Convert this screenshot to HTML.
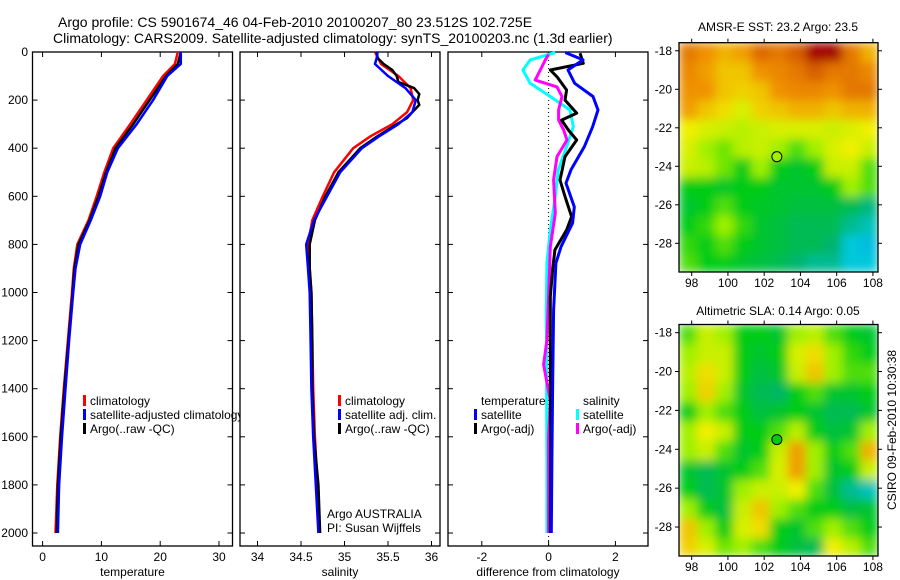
<!DOCTYPE html>
<html><head><meta charset="utf-8">
<style>
html,body{margin:0;padding:0;background:#fff;}
svg{display:block;font-family:"Liberation Sans",sans-serif;}
</style></head>
<body>
<svg id="fig" width="900" height="580" viewBox="0 0 900 580" xmlns="http://www.w3.org/2000/svg">
<defs>
<filter id="smooth" x="0" y="0" width="1" height="1"><feGaussianBlur stdDeviation="5" edgeMode="duplicate"/></filter>
<clipPath id="clipSst"><rect x="679" y="42.7" width="199" height="229.3"/></clipPath>
<clipPath id="clipSla"><rect x="679" y="324.5" width="199" height="231.5"/></clipPath>
</defs>
<text x="58" y="27" font-size="14">Argo profile: CS 5901674_46 04-Feb-2010 20100207_80 23.512S 102.725E</text>
<text x="53" y="43" font-size="14">Climatology: CARS2009. Satellite-adjusted climatology: synTS_20100203.nc (1.3d earlier)</text>
<text x="778" y="31" font-size="12" text-anchor="middle">AMSR-E SST: 23.2 Argo: 23.5</text>
<text x="778" y="315" font-size="12" text-anchor="middle">Altimetric SLA: 0.14 Argo: 0.05</text>
<text transform="translate(896,430) rotate(-90)" font-size="12" text-anchor="middle">CSIRO 09-Feb-2010 10:30:38</text>
<g id="plots"></g>
</svg>
<script>
// ---- depth profiles ----
const depthsT = [0,50,100,200,300,400,500,600,700,800,900,1000,1200,1400,1600,1800,2000];
const tempClim = [23,22.5,20.5,17.7,14.9,12,10.5,9.2,7.8,5.9,5.3,5,4.3,3.6,3.0,2.5,2.2];
const tempSat  = [23.5,23.5,21.2,18.8,16,12.8,11,9.8,8.2,6.4,5.6,5.2,4.5,3.9,3.3,2.8,2.6];
const tempArgo = [23.5,23,21,18.2,15.4,12.4,10.8,9.5,8,6.1,5.4,5.1,4.4,3.7,3.1,2.6,2.4];

const depthsSClim = [0,50,100,150,200,250,300,350,400,500,600,700,800,900,1000,1200,1400,1600,1800,2000];
const salClim = [35.35,35.42,35.62,35.76,35.79,35.72,35.55,35.3,35.1,34.88,34.75,34.63,34.58,34.6,34.62,34.63,34.64,34.66,34.69,34.71];
const depthsSSat = [0,25,50,100,150,200,250,300,350,400,500,600,700,800,900,1000,1200,1400,1600,1800,2000];
const salSat = [35.38,35.37,35.35,35.5,35.7,35.82,35.78,35.62,35.4,35.2,34.95,34.8,34.65,34.56,34.58,34.6,34.61,34.62,34.64,34.67,34.7];
const depthsSArgo = [0,25,50,75,100,125,150,175,200,220,250,275,300,350,400,500,600,700,800,900,1000,1200,1400,1600,1800,2000];
const salArgo = [35.37,35.38,35.45,35.55,35.6,35.62,35.8,35.86,35.84,35.86,35.78,35.72,35.6,35.38,35.18,34.93,34.78,34.66,34.6,34.6,34.62,34.63,34.63,34.65,34.7,34.72];

const depthsDTS = [2,33,75,130,185,241,310,394,490,545,644,711,810,878,1073,1400,1700,2000];
const diffTSat = [0.5,1.03,0.58,0.78,1.33,1.48,1.32,1.07,0.67,0.52,0.77,0.72,0.37,0.22,0.15,0.12,0.1,0.08];
const depthsDTA = [5,47,75,103,158,200,254,283,324,366,435,532,601,685,740,823,906,1017,1300,1600,2000];
const diffTArgo = [0.94,1.04,0.05,0.25,0.54,0.49,0.84,0.39,0.59,0.84,0.49,0.34,0.49,0.69,0.54,0.19,0.12,0.05,0.05,0.06,0.05];
const depthsDSS = [2,33,75,130,185,241,310,394,490,601,740,878,1073,1400,1700,2000];
const diffSSat = [0.2,-0.55,-0.77,-0.55,0.05,0.64,0.74,0.54,0.29,0.2,0.05,-0.05,-0.07,-0.06,-0.05,-0.05];
const depthsDSA = [10,33,75,117,145,185,241,283,324,366,435,532,671,810,1017,1200,1300,1450,1600,2000];
const diffSArgo = [0,-0.1,-0.25,-0.4,0.25,0.4,0.3,0.3,0.45,0.55,0.25,0.15,0.2,0.05,0,-0.05,-0.15,0.05,0.0,0.0];

const depthTicks = [0,200,400,600,800,1000,1200,1400,1600,1800,2000];
const tempTicks = [0,10,20,30];
const salTicks = [34,34.5,35,35.5,36];
const diffTicks = [-2,0,2];
const latTicks = [-18,-20,-22,-24,-26,-28];
const lonTicks = [98,100,102,104,106,108];

// ---- map grids (normalized colour index, rows north->south, 1 degree cells) ----
const sstGrid = [
[0.85,0.8,0.75,0.78,0.88,0.85,0.9,1,1,0.85,0.75],
[0.82,0.78,0.72,0.72,0.8,0.82,0.85,0.9,0.85,0.85,0.82],
[0.8,0.8,0.72,0.7,0.72,0.8,0.82,0.82,0.8,0.85,0.85],
[0.78,0.72,0.68,0.62,0.7,0.72,0.75,0.75,0.72,0.75,0.75],
[0.65,0.62,0.6,0.58,0.6,0.62,0.62,0.62,0.6,0.62,0.65],
[0.62,0.55,0.52,0.58,0.6,0.55,0.5,0.55,0.62,0.65,0.6],
[0.6,0.58,0.52,0.45,0.55,0.45,0.42,0.45,0.6,0.6,0.5],
[0.45,0.45,0.43,0.45,0.45,0.42,0.42,0.42,0.45,0.55,0.5],
[0.42,0.45,0.5,0.45,0.43,0.42,0.4,0.4,0.4,0.38,0.33],
[0.45,0.48,0.55,0.48,0.42,0.4,0.38,0.38,0.38,0.3,0.25],
[0.48,0.45,0.5,0.45,0.42,0.4,0.38,0.38,0.35,0.2,0.18],
[0.5,0.45,0.45,0.42,0.4,0.38,0.35,0.3,0.3,0.2,0.2]];
const slaGrid = [
[0.5,0.6,0.55,0.45,0.45,0.42,0.55,0.58,0.5,0.45,0.42],
[0.55,0.6,0.6,0.45,0.42,0.45,0.62,0.68,0.55,0.48,0.45],
[0.58,0.68,0.6,0.45,0.4,0.42,0.6,0.72,0.55,0.5,0.5],
[0.55,0.7,0.55,0.42,0.38,0.36,0.45,0.5,0.42,0.42,0.45],
[0.45,0.55,0.5,0.45,0.4,0.42,0.45,0.42,0.38,0.38,0.42],
[0.55,0.65,0.6,0.45,0.45,0.5,0.58,0.45,0.4,0.42,0.55],
[0.55,0.6,0.5,0.42,0.45,0.6,0.78,0.55,0.45,0.5,0.75],
[0.42,0.38,0.42,0.45,0.5,0.62,0.78,0.55,0.42,0.45,0.6],
[0.45,0.38,0.42,0.55,0.6,0.6,0.65,0.5,0.4,0.3,0.25],
[0.55,0.45,0.4,0.6,0.72,0.55,0.5,0.45,0.45,0.4,0.42],
[0.72,0.55,0.45,0.62,0.68,0.45,0.42,0.5,0.55,0.5,0.45],
[0.7,0.62,0.52,0.55,0.5,0.45,0.4,0.38,0.65,0.58,0.5]];
const floatPos = [102.7,-23.5];

const NS='http://www.w3.org/2000/svg';
const root=document.getElementById('plots');
function mk(tag,attrs,parent){const e=document.createElementNS(NS,tag);for(const k in attrs)e.setAttribute(k,attrs[k]);(parent||root).appendChild(e);return e;}
function txt(s,x,y,anchor,size,parent){const t=mk('text',{x:x,y:y,'text-anchor':anchor||'start','font-size':size||12},parent);t.textContent=s;return t;}

const TOP=52, BOT=546;
const yD = d => TOP + d*(533-TOP)/2000;

function panel(name,x0,x1,xs,xticks,xfmt,label,showY){
  const g=mk('g',{});
  
  
  const r=mk('rect',{x:x0,y:TOP,width:x1-x0,height:BOT-TOP,fill:'#fff',stroke:'#000','stroke-width':1.3},g);
  
  
  depthTicks.forEach(d=>{
    const y=yD(d);
    mk('line',{x1:x0,x2:x0+5,y1:y,y2:y,stroke:'#000'},g);
    mk('line',{x1:x1-5,x2:x1,y1:y,y2:y,stroke:'#000'},g);
    if(showY){const t=txt(String(d),28,y+4,'end',12,g);
      
      }
  });
  xticks.forEach(v=>{
    const x=xs(v);
    mk('line',{x1:x,x2:x,y1:BOT,y2:BOT-5,stroke:'#000'},g);
    mk('line',{x1:x,x2:x,y1:TOP,y2:TOP+5,stroke:'#000'},g);
    const t=txt(xfmt(v),x,561,'middle',12,g);
    
    
  });
  const l=txt(label,(x0+x1)/2,576,'middle',12,g);
  
  
  return g;
}
function line(g,xs,depths,vals,color,w,name){
  const pts=depths.map((d,i)=>xs(vals[i]).toFixed(1)+','+yD(d).toFixed(1)).join(' ');
  const p=mk('polyline',{points:pts,fill:'none',stroke:color,'stroke-width':w,'stroke-linejoin':'round'},g);
  
  
}
function legend(g,items,x,y){
  items.forEach((it,i)=>{
    const yy=y+i*14;
    if(it[1]) mk('rect',{x:x,y:yy-10,width:3,height:11,fill:it[1]},g);
    const t=txt(it[0],x+7,yy,'start',12,g);
    
    
  });
}

// Temperature panel
const xT=v=>42.6+v*5.88;
const gT=panel('temperature-panel',32.5,232.5,xT,tempTicks,v=>String(v),'temperature',true);
line(gT,xT,depthsT,tempClim,'#f00',2.5,'temp-climatology-line');
line(gT,xT,depthsT,tempArgo,'#000',2.5,'temp-argo-line');
line(gT,xT,depthsT,tempSat,'#00f',2.5,'temp-satellite-line');
legend(gT,[['climatology','#f00'],['satellite-adjusted climatology','#00f'],['Argo(..raw -QC)','#000']],83,405);

// Salinity panel
const xS=v=>257.5+(v-34)*87;
const gS=panel('salinity-panel',240,440,xS,salTicks,v=>String(v),'salinity',false);
line(gS,xS,depthsSClim,salClim,'#f00',2.5,'sal-climatology-line');
line(gS,xS,depthsSArgo,salArgo,'#000',2.5,'sal-argo-line');
line(gS,xS,depthsSSat,salSat,'#00f',2.5,'sal-satellite-line');
legend(gS,[['climatology','#f00'],['satellite adj. clim.','#00f'],['Argo(..raw -QC)','#000']],338,405);
legend(gS,[['Argo AUSTRALIA',null],['PI: Susan Wijffels',null]],320,518);

// Difference panel
const xDf=v=>548.6+v*33.4;
const gD=panel('difference-panel',448,648,xDf,diffTicks,v=>String(v),'difference from climatology',false);
mk('line',{x1:xDf(0),x2:xDf(0),y1:TOP,y2:BOT,stroke:'#000','stroke-dasharray':'1,3'},gD);
line(gD,xDf,depthsDSS,diffSSat,'#0ff',3,'diff-sal-satellite-line');
line(gD,xDf,depthsDSA,diffSArgo,'#f0f',3,'diff-sal-argo-line');
line(gD,xDf,depthsDTA,diffTArgo,'#000',3,'diff-temp-argo-line');
line(gD,xDf,depthsDTS,diffTSat,'#00f',3,'diff-temp-satellite-line');
legend(gD,[['temperature',null],['satellite','#00f'],['Argo(-adj)','#000']],474,405);
legend(gD,[['salinity',null],['satellite','#0ff'],['Argo(-adj)','#f0f']],576,405);

// Colormap
const stops=[[0,[0,90,255]],[0.2,[0,200,220]],[0.35,[0,180,110]],[0.45,[0,204,20]],[0.55,[160,240,0]],[0.65,[240,240,0]],[0.8,[240,145,0]],[0.9,[215,95,0]],[1,[165,0,0]]];
function cmap(v){
  for(let i=1;i<stops.length;i++){if(v<=stops[i][0]){const a=stops[i-1],b=stops[i],t=(v-a[0])/(b[0]-a[0]);
    const c=a[1].map((x,k)=>Math.round(x+(b[1][k]-x)*t));return 'rgb('+c.join(',')+')';}}
  return 'rgb(165,0,0)';
}
function map(name,grid,top,bot,latRef,clip){
  const x0=679,x1=878,lonL=97.3,lonR=108.28;
  const latT=-17.58, latB=-29.49;
  const px=lon=>x0+(lon-lonL)*(x1-x0)/(lonR-lonL);
  const py=lat=>top+(latT-lat)*(bot-top)/(latT-latB);
  const g=mk('g',{});
  
  
  const cg=mk('g',{'clip-path':'url(#'+clip+')'},g);
  const cells=mk('g',{filter:'url(#smooth)'},cg);
  grid.forEach((row,r)=>row.forEach((v,c)=>{
    const la=latT-r, lo=lonL+c;
    const xa=px(lo), xb=px(Math.min(lo+1,lonR)), ya=py(la), yb=py(Math.max(la-1,latB));
    const cell=mk('rect',{x:xa,y:ya,width:xb-xa+0.5,height:yb-ya+0.5,fill:cmap(v)},cells);
    
    
  }));
  mk('rect',{x:x0,y:top,width:x1-x0,height:bot-top,fill:'none',stroke:'#000','stroke-width':1.3},g);
  latTicks.forEach(l=>{const y=py(l);
    mk('line',{x1:x0-4,x2:x0,y1:y,y2:y,stroke:'#000'},g);
    mk('line',{x1:x1,x2:x1+4,y1:y,y2:y,stroke:'#000'},g);
    const t=txt(String(l),672,y+4,'end',12,g);
    
    });
  lonTicks.forEach(l=>{const x=px(l);
    mk('line',{x1:x,x2:x,y1:bot,y2:bot+4,stroke:'#000'},g);
    mk('line',{x1:x,x2:x,y1:top-4,y2:top,stroke:'#000'},g);
    const t=txt(String(l),x,bot+15,'middle',12,g);
    
    });
  const m=mk('circle',{cx:px(floatPos[0]),cy:py(floatPos[1]),r:5,fill:cmap(latRef),stroke:'#000','stroke-width':1},g);
  
  
}
map('sst-map',sstGrid,42.7,272,0.55,'clipSst');
map('sla-map',slaGrid,324.5,556,0.45,'clipSla');
</script>
</body></html>
